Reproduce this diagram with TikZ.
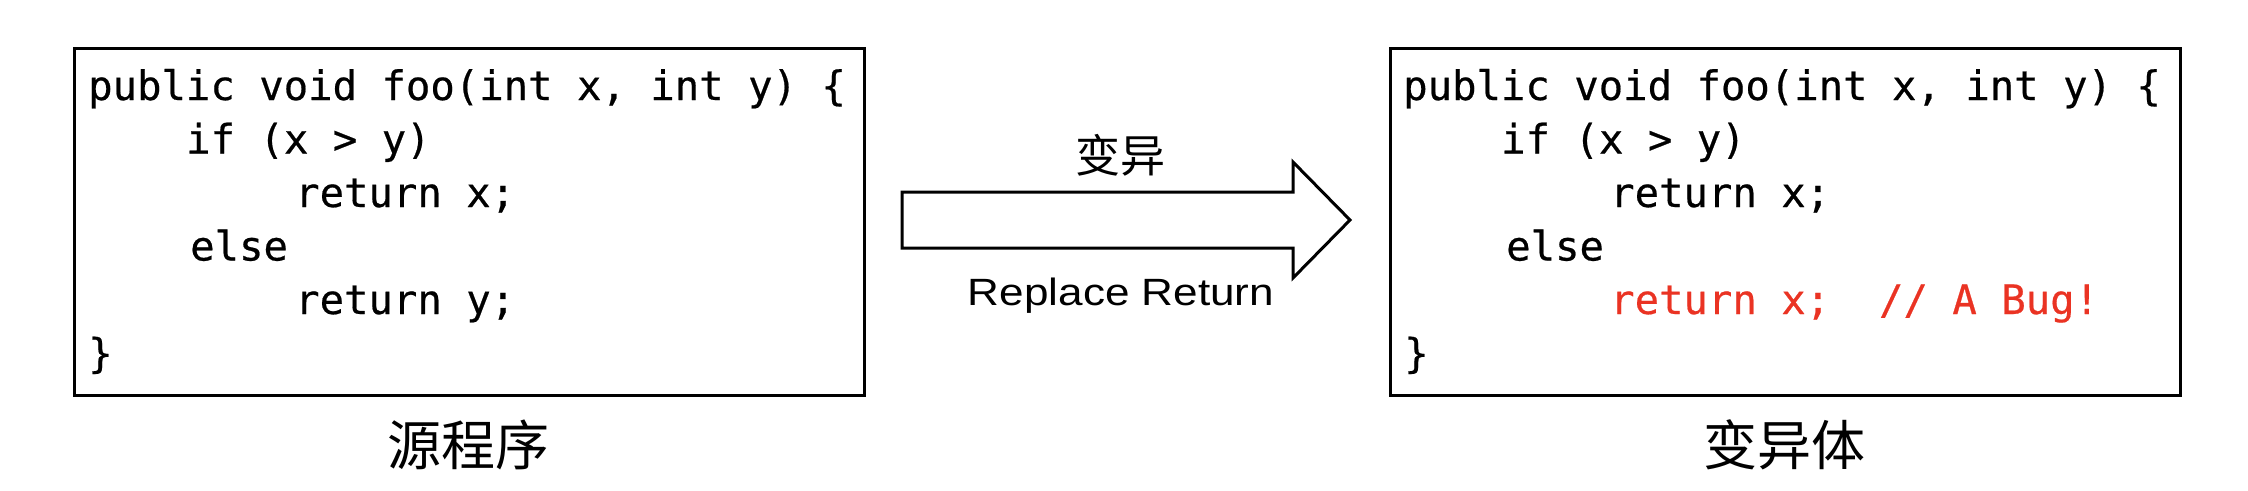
\documentclass[tikz,border=0pt]{standalone}
\usepackage{fontspec}
\usepackage{graphicx}
\setmainfont{Liberation Sans}
\setmonofont[FakeBold=0.5]{DejaVu Sans Mono}
\newfontfamily\cjk{Noto Sans CJK SC}
\definecolor{bugred}{RGB}{234,51,35}
\tikzset{
  codebox/.style={draw, line width=3pt, anchor=north west, inner sep=0pt,
    minimum width=790pt, minimum height=347pt},
  code/.style={anchor=base west, inner sep=0pt,
    font=\ttfamily\fontsize{40.6}{48}\selectfont},
  caption/.style={anchor=base, inner sep=0pt, font=\cjk\fontsize{54}{60}\selectfont},
  arrowshape/.style={draw, line width=3pt, line join=miter, fill=white},
}
\begin{document}
\begin{tikzpicture}[x=1pt,y=-1pt]
\useasboundingbox (0,0) rectangle (2248,490);
% boxes
\node[codebox] (src) at (73,47) {};
\node[codebox] (mut) at (1389,47) {};
% source code
\node[code] (s1) at (88,100) {public void foo(int x, int y) \{};
\node[code] (s2) at (186,153.5) {if (x > y)};
\node[code] (s3) at (295,207) {return x;};
\node[code] (s4) at (190,260.5) {else};
\node[code] (s5) at (295,314) {return y;};
\node[code] (s6) at (88,367.5) {\}};
% mutant code
\node[code] (m1) at (1403,100) {public void foo(int x, int y) \{};
\node[code] (m2) at (1501,153.5) {if (x > y)};
\node[code] (m3) at (1610,207) {return x;};
\node[code] (m4) at (1506,260.5) {else};
\node[code, text=bugred] (m5) at (1610,314) {return x;\ \ // A Bug!};
\node[code] (m6) at (1404,367.5) {\}};
% captions
\node[caption] (cs) at (468,465) {源程序};
\node[caption] (cm) at (1784,465) {变异体};
% big arrow
\coordinate (a1) at (902,192);
\coordinate (a2) at (1293,192);
\coordinate (a3) at (1293,162);
\coordinate (tip) at (1350,220);
\coordinate (a5) at (1293,278);
\coordinate (a6) at (1293,248);
\coordinate (a7) at (902,248);
\draw[arrowshape] (a1) -- (a2) -- (a3) -- (tip) -- (a5) -- (a6) -- (a7) -- cycle;
\node[anchor=base, inner sep=0pt, font=\cjk\fontsize{45}{50}\selectfont] (lab1) at (1120,172) {变异};
\node[anchor=base, inner sep=0pt, font=\fontsize{38}{42}\selectfont] (lab2) at (1121,305) {\scalebox{1.16}[1]{Replace Return}};
\end{tikzpicture}
\end{document}
